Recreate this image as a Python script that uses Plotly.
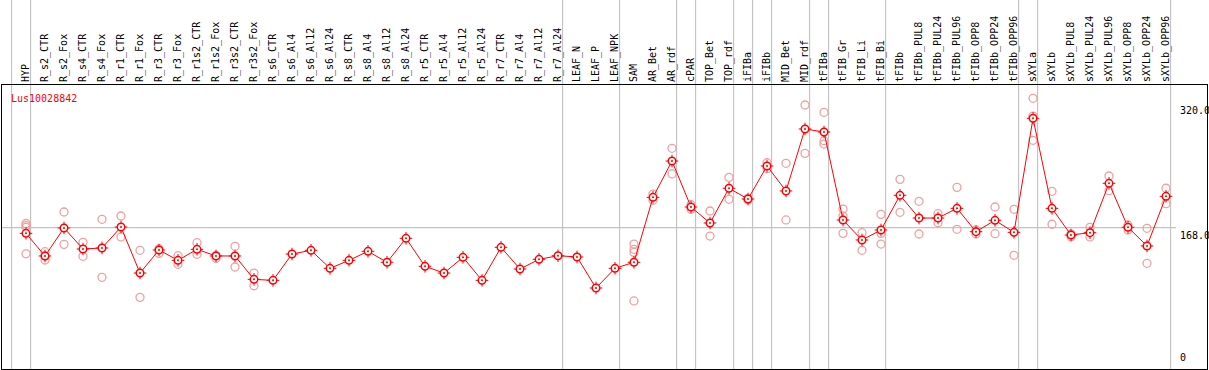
import plotly.graph_objects as go

gene_id = "Lus10028842"

categories = [
    "HYP", "R_s2_CTR", "R_s2_Fox", "R_s4_CTR", "R_s4_Fox", "R_r1_CTR", "R_r1_Fox",
    "R_r3_CTR", "R_r3_Fox", "R_r1s2_CTR", "R_r1s2_Fox", "R_r3s2_CTR", "R_r3s2_Fox",
    "R_s6_CTR", "R_s6_Al4", "R_s6_Al12", "R_s6_Al24", "R_s8_CTR", "R_s8_Al4",
    "R_s8_Al12", "R_s8_Al24", "R_r5_CTR", "R_r5_Al4", "R_r5_Al12", "R_r5_Al24",
    "R_r7_CTR", "R_r7_Al4", "R_r7_Al12", "R_r7_Al24", "LEAF_N", "LEAF_P", "LEAF_NPK",
    "SAM", "AR_Bet", "AR_rdf", "cPAR", "TOP_Bet", "TOP_rdf", "iFIBa", "iFIBb",
    "MID_Bet", "MID_rdf", "tFIBa", "tFIB_Gr", "tFIB_Li", "tFIB_Bi", "tFIBb",
    "tFIBb_PUL8", "tFIBb_PUL24", "tFIBb_PUL96", "tFIBb_OPP8", "tFIBb_OPP24", "tFIBb_OPP96",
    "sXYLa", "sXYLb", "sXYLb_PUL8", "sXYLb_PUL24", "sXYLb_PUL96", "sXYLb_OPP8",
    "sXYLb_OPP24", "sXYLb_OPP96",
]

mean_values = [
    161.3, 134.4, 167.7, 142.7, 143.9, 168.8, 114.1,
    141.5, 129.2, 142.3, 134.4, 134.4, 106.6,
    105.4, 136.7, 141.1, 119.7, 129.2, 139.9,
    126.9, 155.4, 122.1, 114.1, 132.8, 105.4,
    144.7, 118.9, 130.4, 134.7, 133.2, 96.3, 119.7,
    126.9, 204.1, 247.3, 192.6, 173.6, 214.9, 202.1, 241.4,
    211.7, 285.4, 281.8, 177.2, 153.4, 165.3, 206.5,
    179.5, 179.5, 191.0, 163.3, 176.8, 162.5,
    298.1, 191.0, 159.3, 162.1, 220.8, 168.5,
    146.3, 205.3,
]

replicates = [
    [173.0, 170.5, 168.5, 137.0], [139.5, 134.4, 129.6], [186.7, 148.2], [150.6, 134.0],
    [178.0, 109.0], [181.9, 157.0], [141.1, 85.2],
    [143.0, 137.5], [134.7, 124.5], [150.2, 136.4], [135.2, 131.6], [145.9, 121.3],
    [114.1, 99.0],
    [], [], [], [], [], [],
    [], [], [], [], [], [],
    [], [], [], [], [], [], [],
    [148.6, 142.3, 138.7, 80.9], [208.0, 200.6], [262.4, 231.9], [195.4, 189.9],
    [187.9, 158.1], [227.9, 201.8], [203.0, 201.0], [245.3, 238.2],
    [244.6, 177.2], [313.9, 256.4], [305.2, 271.5, 267.5], [190.2, 181.9, 161.3],
    [162.1, 141.1], [183.9, 161.3, 148.6], [225.5, 186.3],
    [199.4, 160.5], [184.7, 174.0], [216.0, 166.1], [165.3, 160.5], [192.6, 160.9],
    [189.9, 135.2],
    [321.9, 300.8, 271.9], [211.3, 172.1], [157.3, 160.5], [168.5, 157.0],
    [229.5, 212.0], [171.2, 165.3],
    [167.3, 125.7], [214.9, 196.6],
]

# indices of the last category of each group (vertical separators follow them)
group_ends = [-1, 0, 28, 31, 34, 35, 37, 38, 39, 41, 42, 45, 52, 53, 60]

y_tick_values = [0, 168.0, 320.0]
y_tick_labels = ["0", "168.0", "320.0"]
mean_line_value = 168.0

RED = "#ff0000"
PINK = "#f0a0a0"
GRAY = "#c4c4c4"
FONT = "DejaVu Sans Mono"

rep_x, rep_y = [], []
for cat, reps in zip(categories, replicates):
    for v in reps:
        rep_x.append(cat)
        rep_y.append(v)

fig = go.Figure()

fig.add_trace(go.Scatter(
    x=rep_x, y=rep_y, mode="markers",
    marker=dict(symbol="circle-open", size=8, color=PINK, line=dict(width=1.3, color=PINK)),
    hoverinfo="skip", showlegend=False,
))
fig.add_trace(go.Scatter(
    x=categories, y=mean_values, mode="lines",
    line=dict(color=RED, width=1), showlegend=False,
))
fig.add_trace(go.Scatter(
    x=categories, y=mean_values, mode="markers",
    marker=dict(symbol="cross-thin-open", size=9, color=RED, line=dict(width=1, color=RED)),
    hoverinfo="skip", showlegend=False,
))
fig.add_trace(go.Scatter(
    x=categories, y=mean_values, mode="markers",
    marker=dict(symbol="circle", size=7.5, color="white", line=dict(width=1.5, color=RED)),
    showlegend=False,
))
fig.add_trace(go.Scatter(
    x=categories, y=mean_values, mode="markers",
    marker=dict(symbol="circle", size=2, color=RED),
    hoverinfo="skip", showlegend=False,
))

W, H = 1209, 370
ML, MR, MT, MB = 2, 2, 85, 1
plot_w = W - ML - MR
plot_h = H - MT - MB

# x range so that category 0 sits at pixel 26 and spacing is 19 px
x0 = (ML - 26) / 19
x1 = (W - MR - 26) / 19

shapes = []
for g in group_ends:
    shapes.append(dict(
        type="line", xref="x", yref="paper", x0=g + 0.24, x1=g + 0.24,
        y0=0, y1=1 + MT / plot_h, line=dict(color=GRAY, width=1.2), layer="below",
    ))
shapes.append(dict(
    type="line", xref="paper", yref="y", x0=0, x1=(1176 - ML) / plot_w,
    y0=mean_line_value, y1=mean_line_value, line=dict(color=GRAY, width=1.2), layer="below",
))

annotations = [dict(
    text=gene_id, xref="paper", yref="paper", x=(9 - ML) / plot_w, y=1 - 6 / plot_h,
    xanchor="left", yanchor="top", showarrow=False,
    font=dict(family=FONT, size=10, color=RED),
)]
label_x = (1178 - ML) / plot_w
shifts = {0: ("bottom", 4), 1: ("top", 0), 2: ("top", -3)}
for i, (v, t) in enumerate(zip(y_tick_values, y_tick_labels)):
    anchor, sh = shifts[i]
    annotations.append(dict(
        text=t, xref="paper", yref="y", x=label_x, y=v, xanchor="left", yanchor=anchor,
        yshift=sh, showarrow=False, font=dict(family=FONT, size=10, color="black"),
    ))

fig.update_layout(
    width=W, height=H,
    margin=dict(l=ML, r=MR, t=MT, b=MB, pad=0),
    paper_bgcolor="white", plot_bgcolor="white",
    shapes=shapes, annotations=annotations,
    xaxis=dict(
        type="category", categoryorder="array", categoryarray=categories,
        range=[x0, x1], side="top", tickangle=-90, ticks="", showgrid=False,
        zeroline=False, showline=True, linecolor="black", linewidth=1, mirror=True,
        tickfont=dict(family=FONT, size=10, color="black"), automargin=False,
    ),
    yaxis=dict(
        range=[0, plot_h / 0.841], showticklabels=False, ticks="", showgrid=False,
        zeroline=False, showline=True, linecolor="black", linewidth=1, mirror=True,
        automargin=False,
    ),
    font=dict(family=FONT),
)

fig.write_html(
    "out.html",
    config={"displayModeBar": False},
    post_script="document.body.style.margin='0';document.body.style.padding='0';",
)
